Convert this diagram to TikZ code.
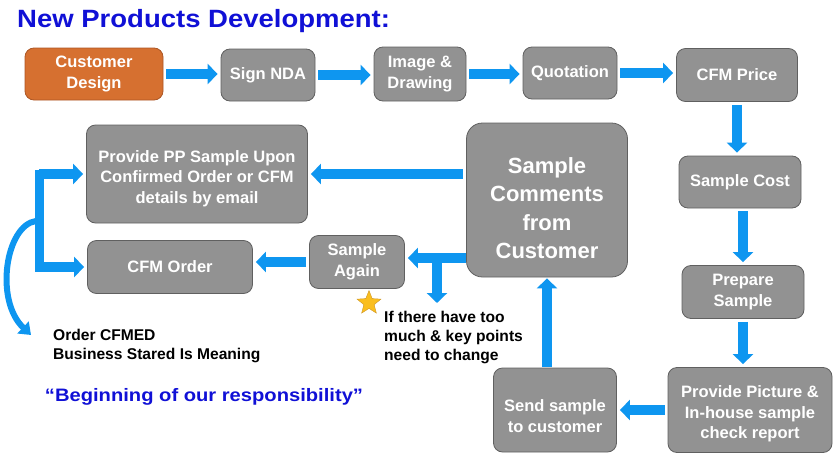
\documentclass[tikz,border=0pt]{standalone}
\usepackage{graphicx}
\usepackage{fontspec}
\setmainfont{Liberation Sans}
\usetikzlibrary{positioning,arrows.meta,shapes.geometric}

\definecolor{boxgray}{RGB}{146,146,146}
\definecolor{boxline}{RGB}{96,96,96}
\definecolor{designorange}{RGB}{214,112,48}
\definecolor{designline}{RGB}{172,86,36}
\definecolor{arrowblue}{RGB}{14,150,240}
\definecolor{titleblue}{RGB}{16,16,214}
\definecolor{stargold}{RGB}{250,190,30}
\definecolor{starline}{RGB}{205,150,40}

% taller first line, pushes the text block down a little
\newcommand{\padtop}[1]{\rule{0pt}{#1}}

\begin{document}
\begin{tikzpicture}[x=1pt,y=-1pt,
                box/.style={draw=boxline, line width=0.8pt, fill=boxgray, rounded corners=9pt,
                    text=white, align=center, inner sep=2pt,
                    font=\bfseries\fontsize{16.5}{20.5}\selectfont},
                arr/.style={draw=arrowblue, line width=10pt,
                    -{Triangle[length=10pt,width=20pt]}, shorten <=3pt, shorten >=3pt},
                curvearr/.style={draw=arrowblue, line width=6pt,
                    -{Triangle[length=11pt,width=16pt]}},
                note/.style={align=left, inner sep=0pt,
                    font=\bfseries\fontsize{15.6}{19}\selectfont},]
            \useasboundingbox (0,0) rectangle (839,458);
            \node[anchor=base west, text=titleblue, inner sep=0pt] (title) at (17,27)
                {\scalebox{1.1}[1]{\bfseries\fontsize{25}{30}\selectfont New Products Development:}};
            % top row
            \node[box, fill=designorange, draw=designline, minimum width=138pt, minimum height=52pt] (design) at (94,74) {Customer\\Design};
            \node[box, minimum width=94pt, minimum height=52pt] (nda) at (268,75) {Sign NDA};
            \node[box, minimum width=92pt, minimum height=54pt] (image) at (420,74) {Image \&\\Drawing};
            \node[box, minimum width=94pt, minimum height=52pt] (quote) at (570,73) {Quotation};
            \node[box, minimum width=121pt, minimum height=53pt] (price) at (737,75) {CFM Price};
            % right column
            \node[box, minimum width=122pt, minimum height=52pt] (cost) at (740,182) {Sample Cost};
            \node[box, minimum width=122pt, minimum height=53pt] (prepare) at (743,292) {Prepare\\Sample};
            \node[box, minimum width=164pt, minimum height=85pt] (report) at (750,410) {\padtop{20pt}Provide Picture \&\\In-house sample\\check report};
            \node[box, minimum width=123pt, minimum height=84pt] (send) at (555,410) {\padtop{24pt}Send sample\\to customer};
            % middle and left
            \node[box, rounded corners=16pt, minimum width=161pt, minimum height=154pt,
                font=\bfseries\fontsize{22}{28.5}\selectfont] (comments) at (547,200) {\padtop{32pt}Sample\\Comments\\from\\Customer};
            \node[box, minimum width=221pt, minimum height=98pt] (pp) at (197,174) {\padtop{21pt}Provide PP Sample Upon\\Confirmed Order or CFM\\details by email};
            \node[box, minimum width=165pt, minimum height=53pt] (order) at (170,267) {CFM Order};
            \node[box, minimum width=95pt, minimum height=53pt] (again) at (357,262) {Sample\\Again};
            \node[star, star points=5, star point ratio=2.3, fill=stargold, draw=starline,
                minimum size=25pt, inner sep=0pt] (mark) at (369,303) {};
            % texts
            \node[note, anchor=north west] (change) at (384,311) {If there have too\\much \& key points\\need to change};
            \node[note, anchor=north west] (biz) at (53,329) {Order CFMED\\Business Stared Is Meaning};
            \node[text=titleblue, inner sep=0pt] (motto) at (204,397)
                {\scalebox{1.12}[1]{\bfseries\fontsize{18}{22}\selectfont “Beginning of our responsibility”}};
            % connectors
            \draw[arr] (design.east) -- (design.east -| nda.west);
            \draw[arr] (nda.east) -- (nda.east -| image.west);
            \draw[arr] (image.east) -- (image.east -| quote.west);
            \draw[arr] (quote.east) -- (quote.east -| price.west);
            \draw[arr] (price.south) -- (price.south |- cost.north);
            \draw[arr] (prepare.north |- cost.south) -- (prepare.north);
            \draw[arr] (prepare.south) -- (prepare.south |- report.north);
            \draw[arr] (report.west) -- (report.west -| send.east);
            \draw[arr, shorten <=1pt, shorten >=1pt] (comments.south |- send.north) -- (comments.south);
            \draw[arr] (pp.east -| comments.west) -- (pp.east);
            \coordinate (tjoin) at (437,258);
            \coordinate (tdown) at (437,303);
            \draw[arr, shorten <=0pt] (tjoin -| comments.west) -- (tjoin -| again.east);
            \draw[arr, shorten <=0pt, shorten >=0pt] (tjoin) -- (tdown);
            \draw[arr] (again.west) -- (again.west -| order.east);
            % bracket on the left
            \coordinate (brtop) at (39,174);
            \coordinate (brbot) at (39,267);
            \draw[draw=arrowblue, line width=9pt, line cap=rect] (brtop) -- (brbot);
            \draw[arr, shorten <=0pt] (brtop) -- (brtop -| pp.west);
            \draw[arr, shorten <=0pt] (brbot) -- (brbot -| order.west);
            \coordinate (cstart) at (36,221);
            \coordinate (cend) at (31,335);
            \draw[curvearr] (cstart) .. controls (6,225) and (-6,300) .. (cend);
        \end{tikzpicture}
\end{document}
